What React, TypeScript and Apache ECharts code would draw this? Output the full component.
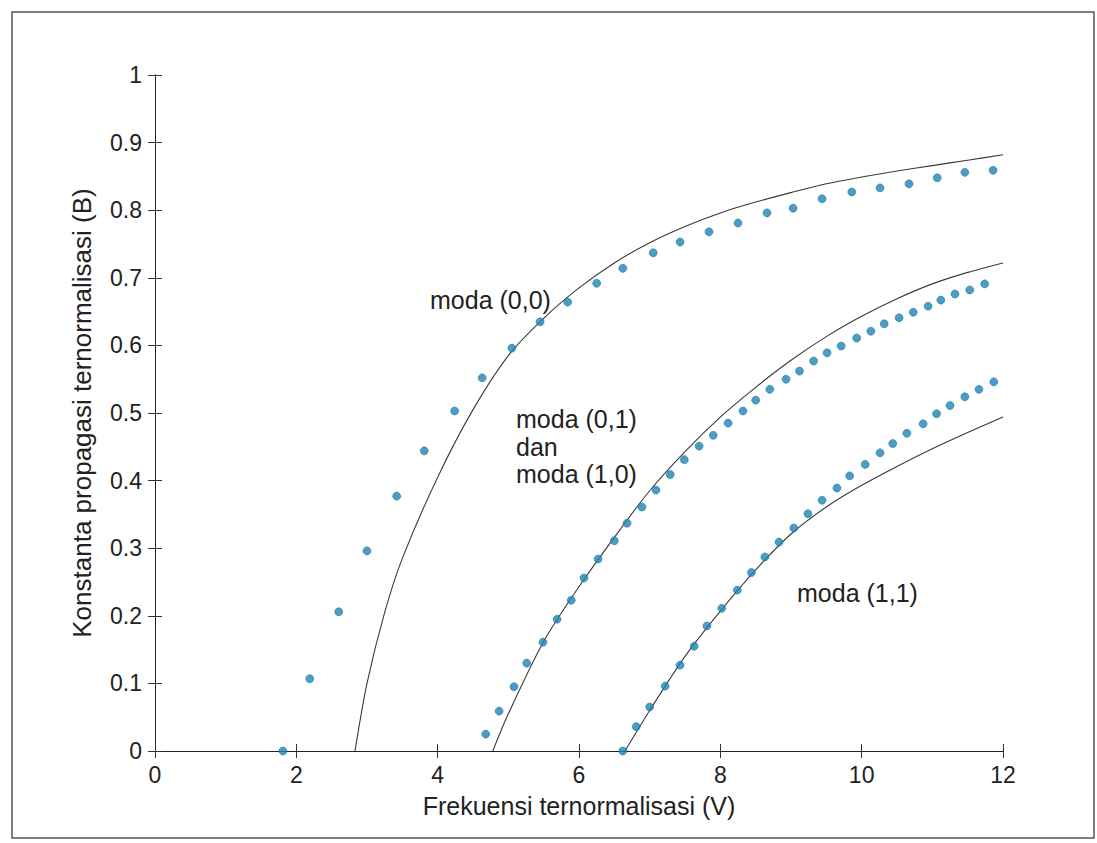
import React, { useEffect, useRef } from "react";
import * as echarts from "echarts";

// Mode (0,0)
const dots00V = [1.81, 2.19, 2.6, 3.0, 3.42, 3.81, 4.24, 4.63, 5.05, 5.45, 5.84, 6.25, 6.62, 7.05, 7.43, 7.84, 8.25, 8.66, 9.03, 9.44, 9.86, 10.26, 10.67, 11.07, 11.46, 11.86];
const dots00B = [0, 0.107, 0.206, 0.296, 0.377, 0.444, 0.503, 0.552, 0.596, 0.635, 0.664, 0.692, 0.714, 0.737, 0.753, 0.768, 0.781, 0.796, 0.803, 0.817, 0.827, 0.833, 0.839, 0.848, 0.856, 0.859];
const line00V = [2.83, 3.0, 3.25, 3.5, 4.0, 4.5, 5.0, 5.5, 6.0, 6.5, 7.0, 7.5, 8.0, 8.5, 9.0, 9.5, 10.0, 10.5, 11.0, 11.5, 12.0];
const line00B = [0, 0.1, 0.205, 0.285, 0.405, 0.505, 0.585, 0.64, 0.685, 0.722, 0.752, 0.776, 0.796, 0.812, 0.826, 0.839, 0.849, 0.858, 0.866, 0.874, 0.882];

// Mode (0,1) dan (1,0)
const dots01V = [4.68, 4.87, 5.08, 5.26, 5.49, 5.69, 5.89, 6.07, 6.27, 6.5, 6.68, 6.89, 7.09, 7.29, 7.49, 7.7, 7.9, 8.11, 8.32, 8.5, 8.7, 8.93, 9.12, 9.32, 9.51, 9.71, 9.93, 10.13, 10.32, 10.53, 10.73, 10.94, 11.12, 11.32, 11.53, 11.74];
const dots01B = [0.025, 0.059, 0.095, 0.13, 0.161, 0.195, 0.223, 0.256, 0.284, 0.311, 0.337, 0.361, 0.386, 0.409, 0.431, 0.451, 0.467, 0.485, 0.503, 0.519, 0.535, 0.55, 0.562, 0.577, 0.589, 0.599, 0.611, 0.621, 0.632, 0.641, 0.649, 0.658, 0.667, 0.676, 0.682, 0.691];
const line01V = [4.78, 5.0, 5.5, 6.0, 6.5, 7.0, 7.5, 8.0, 8.5, 9.0, 9.5, 10.0, 10.5, 11.0, 11.5, 12.0];
const line01B = [0, 0.055, 0.162, 0.243, 0.316, 0.385, 0.443, 0.494, 0.538, 0.578, 0.613, 0.643, 0.669, 0.691, 0.708, 0.722];

// Mode (1,1)
const dots11V = [6.62, 6.81, 7.0, 7.22, 7.43, 7.63, 7.81, 8.02, 8.24, 8.44, 8.63, 8.83, 9.04, 9.24, 9.44, 9.65, 9.83, 10.05, 10.26, 10.44, 10.64, 10.87, 11.06, 11.25, 11.46, 11.66, 11.87];
const dots11B = [0, 0.036, 0.065, 0.096, 0.127, 0.155, 0.185, 0.211, 0.238, 0.264, 0.287, 0.309, 0.33, 0.351, 0.371, 0.389, 0.407, 0.424, 0.441, 0.455, 0.47, 0.484, 0.499, 0.511, 0.524, 0.535, 0.546];
const line11V = [6.65, 7.0, 7.5, 8.0, 8.5, 9.0, 9.5, 10.0, 10.5, 11.0, 11.5, 12.0];
const line11B = [0, 0.06, 0.14, 0.207, 0.268, 0.321, 0.361, 0.393, 0.421, 0.447, 0.471, 0.494];

const xTicks = [0, 2, 4, 6, 8, 10, 12];
const yTicks = [0, 0.1, 0.2, 0.3, 0.4, 0.5, 0.6, 0.7, 0.8, 0.9, 1];

const xName = "Frekuensi ternormalisasi (V)";
const yName = "Konstanta propagasi ternormalisasi (B)";
const labels = ["moda (0,0)", "moda (0,1)", "dan", "moda (1,0)", "moda (1,1)"];

const FONT = "'Liberation Sans', Arial, sans-serif";
const TXT = "#222";
const DOT = "#1f84b6";
const LINE = "#3a3a3a";

const zip = (a: number[], b: number[]) => a.map((v, i) => [v, b[i]]);

export default function App() {
  const ref = useRef<HTMLDivElement>(null);
  useEffect(() => {
    if (!ref.current) return;
    const chart = echarts.init(ref.current, null, { renderer: "svg" });
    const axisLine = { show: true, lineStyle: { color: "#222", width: 1 } };
    const tick = { show: true, inside: true, length: 7, lineStyle: { color: "#333" } };
    const lineSeries = (v: number[], b: number[]) => ({
      type: "line",
      data: zip(v, b),
      smooth: 0.3,
      showSymbol: false,
      symbol: "none",
      lineStyle: { color: LINE, width: 1.1 },
      z: 2,
    });
    const dotSeries = (v: number[], b: number[]) => ({
      type: "scatter",
      data: zip(v, b),
      symbol: "circle",
      symbolSize: 8,
      itemStyle: { color: DOT, borderColor: "#17688f", borderWidth: 0.6 },
      z: 3,
    });
    const ann = (x: number, y: number, t: string) => ({
      type: "text", x, y,
      style: { text: t, fontSize: 25, fontFamily: FONT, fill: TXT, verticalAlign: "middle" },
    });
    chart.setOption({
      animation: false,
      backgroundColor: "#fff",
      grid: { left: 155, top: 75, width: 848, height: 676, containLabel: false },
      xAxis: [
        {
          type: "value", min: 0, max: 12, interval: 2, position: "bottom",
          axisLine, axisTick: tick, splitLine: { show: false },
          axisLabel: { fontSize: 23, color: TXT, fontFamily: FONT, margin: 12, formatter: (v: number) => (xTicks.includes(v) ? String(v) : "") },
          name: xName, nameLocation: "middle", nameGap: 42,
          nameTextStyle: { fontSize: 25, color: TXT, fontFamily: FONT },
        },
        {
          type: "value", min: 0, max: 12, interval: 2, position: "top",
          axisLine, axisTick: tick, splitLine: { show: false }, axisLabel: { show: false },
        },
      ],
      yAxis: [
        {
          type: "value", min: 0, max: 1, interval: 0.1, position: "left",
          axisLine, axisTick: tick, splitLine: { show: false },
          axisLabel: { fontSize: 23, color: TXT, fontFamily: FONT, margin: 13, formatter: (v: number) => { const r = Math.round(v * 10) / 10; return yTicks.includes(r) ? String(r) : ""; } },
          name: yName, nameLocation: "middle", nameGap: 60, nameRotate: 90,
          nameTextStyle: { fontSize: 26, color: TXT, fontFamily: FONT },
        },
        {
          type: "value", min: 0, max: 1, interval: 0.1, position: "right",
          axisLine, axisTick: tick, splitLine: { show: false }, axisLabel: { show: false },
        },
      ],
      graphic: [
        { type: "rect", shape: { x: 12, y: 12, width: 1082, height: 826 }, style: { fill: "none", stroke: "#555", lineWidth: 1.5 }, silent: true },
        ann(430, 300, labels[0]),
        ann(516, 419, labels[1]),
        ann(516, 447, labels[2]),
        ann(516, 474, labels[3]),
        ann(797, 593, labels[4]),
      ],
      series: [
        lineSeries(line00V, line00B),
        lineSeries(line01V, line01B),
        lineSeries(line11V, line11B),
        dotSeries(dots00V, dots00B),
        dotSeries(dots01V, dots01B),
        dotSeries(dots11V, dots11B),
      ],
    });
    return () => chart.dispose();
  }, []);
  return <div ref={ref} style={{ position: "fixed", left: 0, top: 0, width: 1097, height: 843 }} />;
}
